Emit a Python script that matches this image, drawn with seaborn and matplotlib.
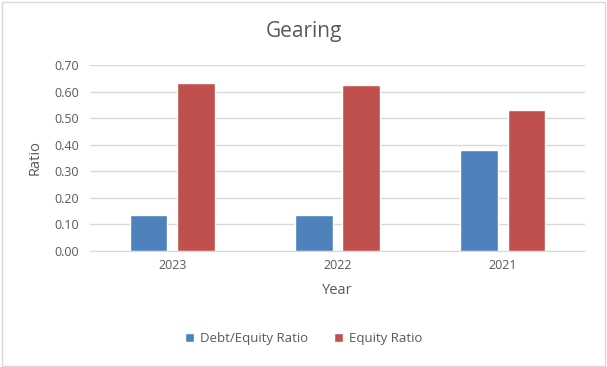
import matplotlib
matplotlib.use("Agg")
import matplotlib.pyplot as plt
import seaborn as sns
import pandas as pd
from matplotlib.patches import Rectangle

years = ["2023", "2022", "2021"]
debt_equity = [0.137, 0.137, 0.379]
equity_ratio = [0.633, 0.625, 0.530]
series_names = ["Debt/Equity Ratio", "Equity Ratio"]
y_ticks = [0.0, 0.1, 0.2, 0.3, 0.4, 0.5, 0.6, 0.7]

df = pd.DataFrame({
    "Year": years * 2,
    "Ratio": debt_equity + equity_ratio,
    "Series": [series_names[0]] * 3 + [series_names[1]] * 3,
})

sns.set_style("white")
plt.rcParams["font.family"] = ["Open Sans", "DejaVu Sans"]
txt = "#595959"

fig = plt.figure(figsize=(6.07, 3.67), dpi=100)
ax = fig.add_axes([0.148, 0.316, 0.816, 0.507])

sns.barplot(data=df, x="Year", y="Ratio", hue="Series", order=years,
            hue_order=series_names, palette=["#4f81bd", "#c0504d"],
            saturation=1, width=0.57, gap=0.21, ax=ax, legend=True)

ax.set_ylim(0, 0.7)
ax.set_yticks(y_ticks)
ax.set_yticklabels([f"{v:.2f}" for v in y_ticks], color=txt, fontsize=9)
ax.tick_params(axis="x", colors=txt, labelsize=9, length=0, pad=6)
ax.tick_params(axis="y", length=0, pad=8)
ax.yaxis.grid(True, color="#d9d9d9", linewidth=1)
ax.set_axisbelow(True)
for s in ["left", "right", "top"]:
    ax.spines[s].set_visible(False)
ax.spines["bottom"].set_color("#d9d9d9")
ax.set_xlabel("Year", color=txt, fontsize=10.5, labelpad=8)
ax.set_ylabel("Ratio", color=txt, fontsize=10.5, labelpad=8)

fig.text(0.5, 0.915, "Gearing", ha="center", va="center", color=txt, fontsize=15)

handles, labels = ax.get_legend_handles_labels()
ax.legend(handles, labels, loc="center", bbox_to_anchor=(0.5, 0.077),
          bbox_transform=fig.transFigure, ncol=2, frameon=False,
          handlelength=0.7, handleheight=0.7, handletextpad=0.4,
          columnspacing=2.0, fontsize=9.5, labelcolor=txt)

fig.patches.append(Rectangle((0.003, 0.004), 0.994, 0.99, transform=fig.transFigure,
                             fill=False, edgecolor="#d9d9d9", linewidth=1))

fig.savefig("out.png", dpi=100, facecolor="white")
